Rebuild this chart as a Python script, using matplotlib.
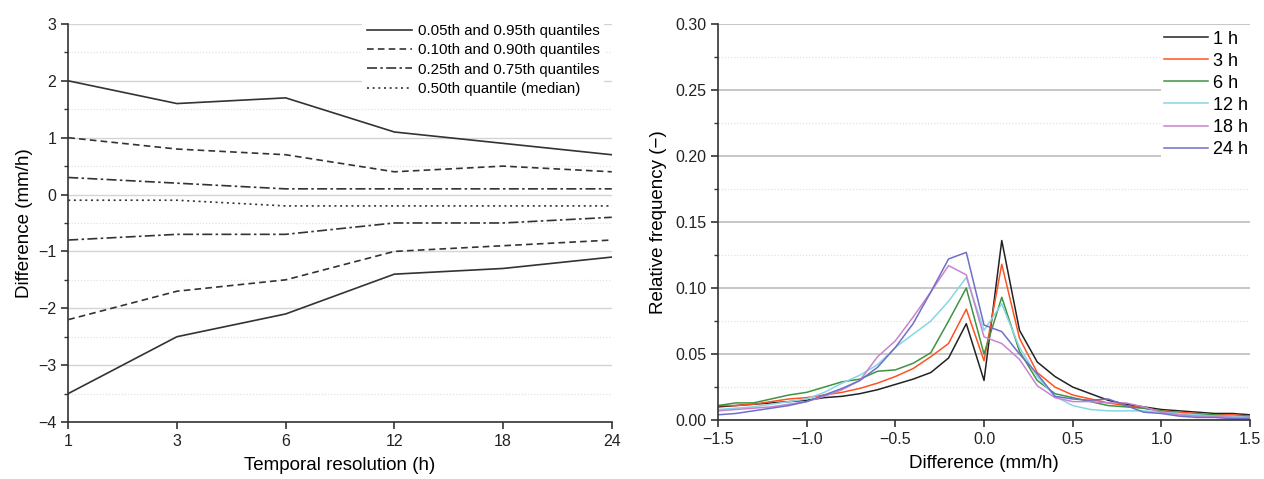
import numpy as np
import matplotlib
matplotlib.use("Agg")
import matplotlib.pyplot as plt
from matplotlib.ticker import FixedLocator

plt.rcParams['font.family'] = ['Liberation Sans', 'DejaVu Sans']

# ---- Left panel: quantiles of difference vs temporal resolution ----
resolutions = ["1", "3", "6", "12", "18", "24"]
q95 = [2.0, 1.6, 1.7, 1.1, 0.9, 0.7]
q05 = [-3.5, -2.5, -2.1, -1.4, -1.3, -1.1]
q90 = [1.0, 0.8, 0.7, 0.4, 0.5, 0.4]
q10 = [-2.2, -1.7, -1.5, -1.0, -0.9, -0.8]
q75 = [0.3, 0.2, 0.1, 0.1, 0.1, 0.1]
q25 = [-0.8, -0.7, -0.7, -0.5, -0.5, -0.4]
q50 = [-0.1, -0.1, -0.2, -0.2, -0.2, -0.2]

# ---- Right panel: relative frequency of differences ----
diff_bins = np.round(np.arange(-1.5, 1.51, 0.1), 2)
freq_1h = [0.010, 0.011, 0.012, 0.013, 0.014, 0.015, 0.017, 0.018, 0.020, 0.023,
           0.027, 0.031, 0.036, 0.047, 0.073, 0.030, 0.136, 0.068, 0.044, 0.033,
           0.025, 0.020, 0.015, 0.012, 0.010, 0.008, 0.007, 0.006, 0.005, 0.005, 0.004]
freq_3h = [0.011, 0.011, 0.012, 0.014, 0.016, 0.017, 0.019, 0.021, 0.024, 0.028,
           0.033, 0.039, 0.048, 0.058, 0.084, 0.045, 0.118, 0.062, 0.036, 0.025,
           0.019, 0.016, 0.013, 0.011, 0.009, 0.007, 0.006, 0.005, 0.004, 0.004, 0.003]
freq_6h = [0.011, 0.013, 0.013, 0.016, 0.019, 0.021, 0.025, 0.029, 0.031, 0.037,
           0.038, 0.043, 0.051, 0.075, 0.100, 0.050, 0.093, 0.052, 0.030, 0.020,
           0.017, 0.014, 0.011, 0.010, 0.009, 0.007, 0.005, 0.004, 0.004, 0.003, 0.003]
freq_12h = [0.008, 0.009, 0.010, 0.012, 0.014, 0.016, 0.021, 0.028, 0.034, 0.042,
            0.055, 0.065, 0.075, 0.090, 0.108, 0.068, 0.088, 0.055, 0.033, 0.018,
            0.011, 0.008, 0.007, 0.007, 0.007, 0.006, 0.005, 0.004, 0.003, 0.003, 0.002]
freq_18h = [0.007, 0.008, 0.009, 0.010, 0.012, 0.014, 0.018, 0.023, 0.030, 0.048,
            0.060, 0.078, 0.097, 0.117, 0.110, 0.063, 0.058, 0.046, 0.026, 0.017,
            0.014, 0.014, 0.013, 0.013, 0.010, 0.006, 0.004, 0.003, 0.003, 0.002, 0.002]
freq_24h = [0.004, 0.005, 0.007, 0.009, 0.011, 0.014, 0.019, 0.024, 0.030, 0.040,
            0.055, 0.073, 0.097, 0.122, 0.127, 0.072, 0.067, 0.050, 0.035, 0.018,
            0.016, 0.015, 0.016, 0.011, 0.006, 0.005, 0.003, 0.002, 0.002, 0.001, 0.001]
freq_labels = ["1 h", "3 h", "6 h", "12 h", "18 h", "24 h"]
freq_colors = ["#222222", "#ff5224", "#3e9440", "#86d6e4", "#c984cf", "#6f6fc9"]

fig = plt.figure(figsize=(12.64, 4.79), dpi=100)
axL = fig.add_axes([0.054, 0.119, 0.430, 0.831])
axR = fig.add_axes([0.568, 0.123, 0.421, 0.827])

spine_c = "#333333"
for ax in (axL, axR):
    ax.spines['top'].set_visible(False)
    ax.spines['right'].set_visible(False)
    for s in ('left', 'bottom'):
        ax.spines[s].set_color(spine_c)
        ax.spines[s].set_linewidth(1.2)
    ax.tick_params(which='both', direction='out', color=spine_c, labelsize=11.5,
                   labelcolor='#222222')
    ax.tick_params(which='major', length=5, width=1.2)
    ax.tick_params(which='minor', length=3, width=1.0)
    ax.set_axisbelow(True)

def minus(s):
    return s.replace("-", "\u2212")

# Left panel
x = np.arange(len(resolutions))
lc = "#333333"
axL.plot(x, q95, color=lc, lw=1.2, ls='-', label="0.05th and 0.95th quantiles")
axL.plot(x, q05, color=lc, lw=1.2, ls='-')
axL.plot(x, q90, color=lc, lw=1.2, ls=(0, (4, 2.5)), label="0.10th and 0.90th quantiles")
axL.plot(x, q10, color=lc, lw=1.2, ls=(0, (4, 2.5)))
axL.plot(x, q75, color=lc, lw=1.2, ls=(0, (6, 2, 1.5, 2)), label="0.25th and 0.75th quantiles")
axL.plot(x, q25, color=lc, lw=1.2, ls=(0, (6, 2, 1.5, 2)))
axL.plot(x, q50, color=lc, lw=1.2, ls=(0, (1.2, 2.2)), label="0.50th quantile (median)")
axL.set_xlim(0, len(resolutions) - 1)
axL.set_ylim(-4, 3)
axL.set_xticks(x)
axL.set_xticklabels(resolutions)
yL = list(range(-4, 4))
axL.set_yticks(yL)
axL.set_yticklabels([minus(str(v)) for v in yL])
axL.yaxis.set_minor_locator(FixedLocator(np.arange(-3.5, 3.0, 1.0)))
axL.grid(which='major', axis='y', color='#d4d4d4', lw=1.0)
axL.grid(which='minor', axis='y', color='#e2e2e2', lw=0.9, ls=(0, (1, 1.5)))
axL.set_xlabel("Temporal resolution (h)", fontsize=13.5, labelpad=6)
axL.set_ylabel("Difference (mm/h)", fontsize=13.5, labelpad=4)
axL.legend(loc='upper right', bbox_to_anchor=(1.0, 1.03), fontsize=10.8,
           handlelength=3.0, handletextpad=0.4, labelspacing=0.35,
           frameon=True, facecolor='white', edgecolor='none', framealpha=1,
           borderpad=0.3)

# Right panel
for vals, lab, col in zip([freq_1h, freq_3h, freq_6h, freq_12h, freq_18h, freq_24h],
                          freq_labels, freq_colors):
    axR.plot(diff_bins, vals, color=col, lw=1.1, label=lab)
axR.set_xlim(-1.5, 1.5)
axR.set_ylim(0, 0.30)
xR = np.arange(-1.5, 1.51, 0.5)
axR.set_xticks(xR)
axR.set_xticklabels([minus(f"{v:.1f}") for v in xR])
yR = np.arange(0, 0.301, 0.05)
axR.set_yticks(yR)
axR.set_yticklabels([f"{v:.2f}" for v in yR])
axR.yaxis.set_minor_locator(FixedLocator(np.arange(0.025, 0.3, 0.05)))
axR.grid(which='major', axis='y', color='#b8b8b8', lw=1.1)
axR.grid(which='minor', axis='y', color='#e2e2e2', lw=0.9, ls=(0, (1, 1.5)))
axR.set_xlabel("Difference (mm/h)", fontsize=13.5, labelpad=6)
axR.set_ylabel("Relative frequency (\u2212)", fontsize=13.5, labelpad=6)
axR.legend(loc='upper right', bbox_to_anchor=(1.02, 1.015), fontsize=13,
           handlelength=2.4, handletextpad=0.3, labelspacing=0.28,
           frameon=True, facecolor='white', edgecolor='none', framealpha=1,
           borderpad=0.2)

fig.savefig("out.png", dpi=100)
